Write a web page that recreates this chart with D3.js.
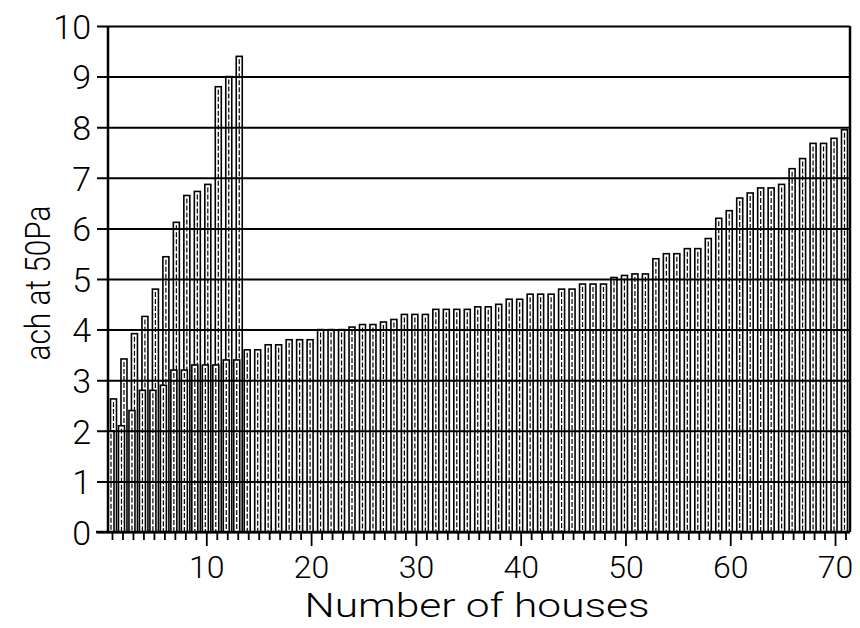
<!DOCTYPE html>
<html>
<head>
<meta charset="utf-8">
<script src="https://cdn.jsdelivr.net/npm/d3@7"></script>
<style>
  body { margin: 0; background: #fff; }
  text { font-family: Roboto, "DejaVu Sans", sans-serif; font-weight: 300; fill: #000; }
</style>
</head>
<body>
<script>
// houses 1..71, sorted ach at 50Pa
const houses = d3.range(1, 72);
const ach = [2.0, 2.1, 2.4, 2.8, 2.8, 2.9, 3.2, 3.2, 3.3, 3.3, 3.3, 3.4, 3.4,
  3.6, 3.6, 3.7, 3.7, 3.8, 3.8, 3.8, 4.0, 4.0, 4.0, 4.05, 4.1, 4.1, 4.15, 4.2, 4.3, 4.3, 4.3,
  4.4, 4.4, 4.4, 4.4, 4.45, 4.45, 4.5, 4.6, 4.6, 4.7, 4.7, 4.7, 4.8, 4.8, 4.9, 4.9, 4.9,
  5.03, 5.07, 5.1, 5.1, 5.4, 5.5, 5.5, 5.6, 5.6, 5.8, 6.2, 6.35, 6.6, 6.7, 6.8, 6.8, 6.87,
  7.18, 7.38, 7.68, 7.68, 7.78, 7.95];
// first 13 houses, second (higher) reading
const achHigh = [2.63, 3.42, 3.92, 4.26, 4.8, 5.44, 6.12, 6.65, 6.73, 6.87, 8.8, 9.0, 9.4];
const yTicks = d3.range(0, 11);
const xLabels = [10, 20, 30, 40, 50, 60, 70];

const width = 860, height = 628;
const mLeft = 108, mRight = 850, mTop = 26, mBottom = 532;

const svg = d3.select("body").append("svg")
    .attr("width", width)
    .attr("height", height);

const x = d3.scaleLinear().domain([1, 71]).range([112, 845.5]);
const y = d3.scaleLinear().domain([0, 10]).range([mBottom, mTop]);

const barW = 6;

function drawBars(cls, data, xs, dx) {
    const g = svg.append("g").attr("class", cls);
    const b = g.selectAll("g").data(data).enter().append("g")
        .attr("transform", (d, i) => `translate(${x(xs[i]) + dx},0)`);
    b.append("rect")
        .attr("x", -barW / 2)
        .attr("y", d => y(d))
        .attr("width", barW)
        .attr("height", d => mBottom - y(d))
        .attr("fill", "#fff")
        .attr("stroke", "#000")
        .attr("stroke-width", 1.6);
    b.append("line")
        .attr("x1", 0).attr("x2", 0)
        .attr("y1", d => y(d) + 3)
        .attr("y2", mBottom)
        .attr("stroke", "#000")
        .attr("stroke-width", 1.2)
        .attr("stroke-dasharray", "5,2");
}

drawBars("high", achHigh, houses.slice(0, 13), 1.5);
drawBars("main", ach, houses, -1);

// gridlines + y labels, drawn from the right border out to the left (over the bars)
const gy = svg.append("g")
    .attr("transform", `translate(${mRight},0)`)
    .call(d3.axisLeft(y).tickValues(yTicks).tickSize(mRight - 97).tickPadding(6));
gy.select(".domain").remove();
gy.selectAll(".tick line").attr("stroke", "#000").attr("stroke-width", 2);
gy.selectAll(".tick text").style("font-size", "34px").attr("dy", "0.36em");

// axes frame
svg.append("line").attr("x1", mLeft).attr("x2", mLeft).attr("y1", mTop).attr("y2", mBottom)
    .attr("stroke", "#000").attr("stroke-width", 2.5);
svg.append("line").attr("x1", mRight).attr("x2", mRight).attr("y1", mTop).attr("y2", mBottom)
    .attr("stroke", "#000").attr("stroke-width", 2.5);

const gx = svg.append("g")
    .attr("transform", `translate(0,${mBottom})`)
    .call(d3.axisBottom(x).tickValues(houses).tickSize(8)
        .tickFormat(d => xLabels.includes(d) ? d : ""));
gx.select(".domain").attr("d", `M96,0H${mRight}`).attr("stroke", "#000").attr("stroke-width", 2.5);
gx.selectAll(".tick line").attr("stroke", "#000").attr("stroke-width", 1.8)
    .attr("y2", d => d % 10 === 0 ? 14 : 8);
gx.selectAll(".tick text").style("font-size", "32px").attr("y", 46).attr("dy", 0);

svg.append("text")
    .attr("transform", "translate(50,283) rotate(-90)")
    .attr("text-anchor", "middle")
    .attr("textLength", 155)
    .attr("lengthAdjust", "spacingAndGlyphs")
    .style("font-size", "35px")
    .text("ach at 50Pa");

svg.append("text")
    .attr("x", 477).attr("y", 617)
    .attr("text-anchor", "middle")
    .attr("textLength", 345)
    .attr("lengthAdjust", "spacingAndGlyphs")
    .style("font-size", "33px")
    .text("Number of houses");
</script>
</body>
</html>
